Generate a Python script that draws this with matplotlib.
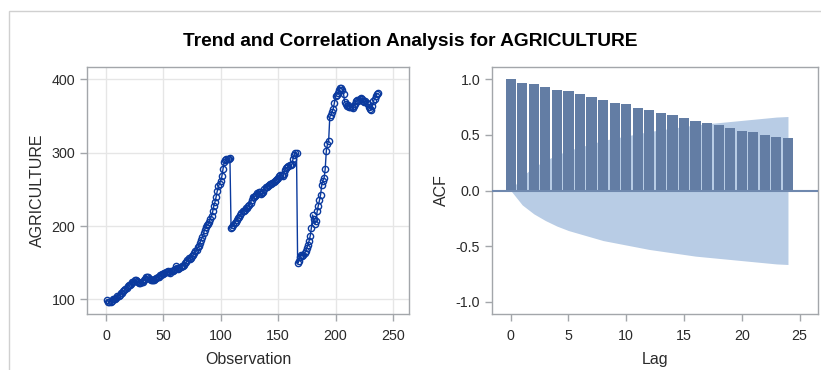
import numpy as np
import matplotlib
matplotlib.use("Agg")
import matplotlib.pyplot as plt
from matplotlib.patches import Rectangle

plt.rcParams['font.family'] = ['Liberation Sans', 'DejaVu Sans']
plt.rcParams['axes.unicode_minus'] = False

## series values, obs 1..237
agri_1 = [99, 97, 96, 97, 98, 100, 101, 100, 102, 104,
          105, 106, 108, 109, 111, 113, 114, 116, 118, 119,
          120, 121, 123, 124, 126, 127, 125, 123, 122, 122,
          123, 124, 126, 128, 130, 131, 130, 128, 127, 126,
          126, 127, 128, 129, 130, 131, 133, 133, 134, 135,
          136, 137, 137, 138, 137, 136, 138, 139, 140, 141,
          145, 143, 142, 143, 144, 145, 146, 147, 149, 151,
          153, 156, 155, 157, 159, 161, 163, 166, 168, 171,
          173, 177, 181, 185, 190, 195, 199, 201, 203, 206,
          210, 214, 220, 228, 233, 240, 248, 254, 258, 262,
          268, 278, 287, 290, 292, 291, 292, 293]
agri_2 = [197, 199, 202, 204, 206, 208, 211, 213, 215, 218,
          220, 221, 222, 224, 225, 227, 229, 232, 236, 239,
          240, 241, 243, 245, 247, 246, 244, 245, 247, 250,
          253, 253, 254, 256, 257, 258, 259, 260, 262, 263,
          264, 266, 268, 270, 269, 268, 271, 277, 279, 280,
          282, 283, 283, 284, 292, 297, 299, 300]
agri_3 = [149, 152, 158, 160, 159, 161, 163, 166, 170, 174,
          180, 187, 198, 215, 210, 203, 207, 220, 228, 235,
          243, 256, 262, 265, 278, 303, 312, 316, 349, 352,
          355, 360, 368, 377, 379, 381, 385, 388, 388, 386,
          380, 369, 366, 364, 365, 363, 362, 363, 361, 364,
          367, 370, 372, 371, 373, 375, 374, 371, 369, 371,
          368, 366, 363, 360, 359, 364, 370, 374, 377, 380,
          381]
agriculture = agri_1 + agri_2 + agri_3
obs = np.arange(1, len(agriculture) + 1)

## autocorrelations and 2 std err band
lags = np.arange(0, 25)
acf = [1.0, 0.97, 0.955, 0.93, 0.905, 0.89, 0.866, 0.837, 0.81, 0.786,
       0.774, 0.745, 0.72, 0.694, 0.68, 0.653, 0.629, 0.605, 0.588, 0.564,
       0.537, 0.525, 0.5, 0.484, 0.47]
band = [0.0, 0.13, 0.21, 0.27, 0.32, 0.36, 0.39, 0.42, 0.45, 0.47,
        0.49, 0.51, 0.53, 0.545, 0.56, 0.575, 0.59, 0.60, 0.61, 0.62,
        0.63, 0.64, 0.65, 0.66, 0.665]

frame_col = '#A3A6AA'
txt_col = '#2A2A2A'

fig = plt.figure(figsize=(8.21, 3.70), dpi=100)
fig.patches.append(Rectangle((8.5 / 821, -0.1), 1.2, 1 - 11 / 370 + 0.1,
                             transform=fig.transFigure, fill=False,
                             edgecolor='#D0D0D0', linewidth=1.0))
fig.text(0.5, 1 - 41 / 370, 'Trend and Correlation Analysis for AGRICULTURE',
         ha='center', va='center', fontsize=13.8, fontweight='bold', color='black')

ax1 = fig.add_axes([87 / 821, 1 - 314 / 370, 322 / 821, 247 / 370])
ax2 = fig.add_axes([492 / 821, 1 - 314 / 370, 326 / 821, 247 / 370])

# trend plot
ax1.grid(True, color='#E6E6E6', linewidth=1.0)
ax1.set_axisbelow(True)
ax1.plot(obs, agriculture, color='#0B3A9E', linewidth=1.0, marker='o',
         markersize=4.5, markerfacecolor='none', markeredgewidth=1.0,
         markeredgecolor='#0B3A9E')
ax1.set_xlim(-16.5, 264)
ax1.set_ylim(80, 417)
ax1.set_xticks([0, 50, 100, 150, 200, 250])
ax1.set_yticks([100, 200, 300, 400])
ax1.set_xlabel('Observation', fontsize=11.5, color=txt_col, labelpad=6.5)
ax1.set_ylabel('AGRICULTURE', fontsize=11.5, color=txt_col, labelpad=5)

# acf plot
ax2.fill_between(lags, [-b for b in band], band, color='#B8CCE5', linewidth=0, zorder=1)
ax2.bar(lags, acf, width=0.88, color='#637DA4', zorder=2)
ax2.axhline(0, color='#6F88AE', linewidth=1.5, zorder=3)
ax2.set_xlim(-1.62, 26.6)
ax2.set_ylim(-1.11, 1.11)
ax2.set_xticks([0, 5, 10, 15, 20, 25])
ax2.set_yticks([-1.0, -0.5, 0.0, 0.5, 1.0])
ax2.set_yticklabels(['-1.0', '-0.5', '0.0', '0.5', '1.0'])
ax2.set_xlabel('Lag', fontsize=11.5, color=txt_col, labelpad=6.5)
ax2.set_ylabel('ACF', fontsize=11.5, color=txt_col, labelpad=5)

for ax in (ax1, ax2):
    for s in ax.spines.values():
        s.set_color(frame_col)
        s.set_linewidth(1.0)
    ax.tick_params(colors=frame_col, labelcolor=txt_col, labelsize=10.3,
                   length=5, width=1.0, direction='out')
    ax.tick_params(axis='x', pad=6)

fig.savefig('out.png', dpi=100)
